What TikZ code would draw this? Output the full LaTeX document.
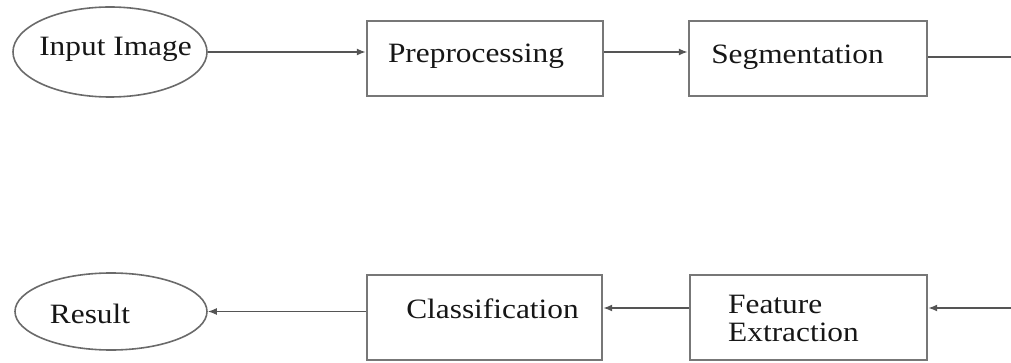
\documentclass[tikz,border=0pt]{standalone}
\usepackage{fontspec}
\setmainfont[FakeStretch=1.12]{Liberation Serif}
\usetikzlibrary{shapes.geometric,arrows.meta}
\definecolor{boxgray}{HTML}{777777}
\definecolor{ovalgray}{HTML}{6A6A6A}
\definecolor{linegray}{HTML}{555555}
\definecolor{txtcol}{HTML}{161616}
\begin{document}
\begin{tikzpicture}[x=1pt,y=-1pt,
  box/.style={draw=boxgray,line width=2.4pt,inner sep=0pt},
  oval/.style={ellipse,draw=ovalgray,line width=1.6pt,inner sep=0pt},
  txt/.style={font=\fontsize{28}{28}\selectfont,text=txtcol,inner sep=0pt},
  conn/.style={draw=linegray,line width=1.5pt},
  arr/.style={conn,-{Latex[length=9pt,width=7pt]}}]
\useasboundingbox (0,0) rectangle (1011,363);
% shapes
\node[oval,minimum width=194pt,minimum height=90pt] (in) at (110,52) {};
\node[box,minimum width=236pt,minimum height=75pt] (pre) at (485,58.5) {};
\node[box,minimum width=238pt,minimum height=75pt] (seg) at (808,58.5) {};
\node[oval,minimum width=192pt,minimum height=77pt] (res) at (111,311.5) {};
\node[box,minimum width=235pt,minimum height=85pt] (cls) at (484.5,317.5) {};
\node[box,minimum width=237pt,minimum height=85pt] (fe) at (808.5,317.5) {};
% texts
\node[txt,anchor=base] (intxt) at (115.5,56) {Input Image};
\node[txt,anchor=base] (pretxt) at (476,63) {Preprocessing};
\node[txt,anchor=base] (segtxt) at (797.5,64) {Segmentation};
\node[txt,anchor=base] (restxt) at (90,323) {Result};
\node[txt,anchor=base] (clstxt) at (492.5,318) {Classification};
\node[txt,anchor=base west] (fetxta) at (728,313) {Feature};
\node[txt,anchor=base west] (fetxtb) at (728,341) {Extraction};
% free ends
\coordinate (segout) at (1011,57);
\coordinate (fein) at (1011,308);
% connectors
\draw[arr] (in.east) -- (in.east -| pre.west);
\draw[arr] (in.east -| pre.east) -- (in.east -| seg.west);
\draw[conn] (seg.east |- segout) -- (segout);
\draw[arr] (fein) -- (fein -| fe.east);
\draw[arr] (fein -| fe.west) -- (fein -| cls.east);
\draw[arr] (cls.west |- res.east) -- (res.east);
\end{tikzpicture}
\end{document}
